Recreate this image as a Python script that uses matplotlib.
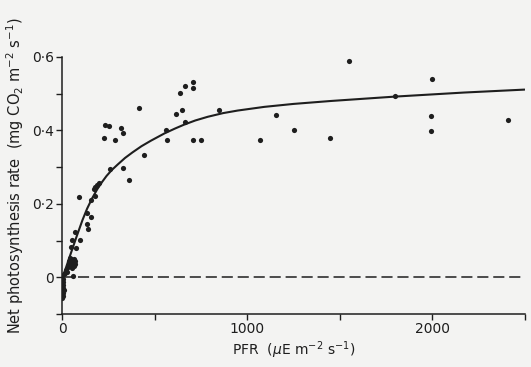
import matplotlib
matplotlib.use('Agg')
import matplotlib.pyplot as plt

# scatter readings: PFR (uE m-2 s-1) and net photosynthesis (mg CO2 m-2 s-1)
pfr = [708, 662, 709, 637, 413, 648, 616, 850, 233, 254, 319, 327, 664, 559,
       227, 285, 569, 706, 749, 440, 261, 330, 361, 1158, 1070, 1251, 1549,
       1998, 1801, 1992, 1993, 2409, 1447,
       93, 200, 190, 180, 172, 178, 156, 134, 157, 133, 139, 94, 72, 55, 50, 77,
       30, 35, 40, 45, 50, 55, 60, 65, 70, 42, 52, 62, 38, 48, 68,
       25, 10, 61, 5, 3, 7, 5, 8, 4, 6, 2, 15, 20]
rate = [0.533, 0.522, 0.516, 0.503, 0.461, 0.456, 0.444, 0.455, 0.415, 0.412,
        0.406, 0.394, 0.422, 0.402, 0.379, 0.374, 0.374, 0.373, 0.373, 0.332,
        0.296, 0.298, 0.266, 0.441, 0.374, 0.400, 0.589, 0.539, 0.493, 0.438,
        0.399, 0.429, 0.378,
        0.220, 0.258, 0.252, 0.246, 0.240, 0.222, 0.211, 0.174, 0.164, 0.145,
        0.132, 0.103, 0.124, 0.101, 0.083, 0.081,
        0.028, 0.035, 0.030, 0.042, 0.036, 0.048, 0.040, 0.050, 0.045, 0.052,
        0.026, 0.032, 0.045, 0.050, 0.036,
        0.015, 0.008, 0.003, -0.005, -0.012, -0.020, -0.028, -0.035, -0.042,
        -0.050, -0.057, 0.012, 0.020]

# fitted response curve
curve_x = [0, 7, 42, 76, 110, 135, 163, 190, 215, 240, 268, 300, 340, 380,
           429, 480, 554, 610, 661, 720, 787, 870, 949, 1093, 1250, 1452,
           1801, 2173, 2500]
curve_y = [-0.005, 0.006, 0.058, 0.108, 0.156, 0.187, 0.216, 0.240, 0.259,
           0.276, 0.292, 0.307, 0.325, 0.340, 0.357, 0.372, 0.392, 0.405,
           0.416, 0.427, 0.437, 0.447, 0.454, 0.464, 0.472, 0.480, 0.492,
           0.503, 0.511]

x_ticks = [0, 500, 1000, 1500, 2000, 2500]
x_labels = ['0', '', '1000', '', '2000', '']
y_ticks = [-0.1, 0, 0.1, 0.2, 0.3, 0.4, 0.5, 0.6]
y_labels = ['', '0', '', '0·2', '', '0·4', '', '0·6']

ink = '#1e1e1e'
plt.rcParams['lines.scale_dashes'] = False

fig = plt.figure(figsize=(5.31, 3.67), dpi=100, facecolor='#f3f3f2')
ax = fig.add_axes([0.117, 0.144, 0.871, 0.701])
ax.set_facecolor('#f3f3f2')

ax.plot([0, 2500], [0, 0], color=ink, lw=1.1, dashes=(8, 3.5))
ax.plot(curve_x, curve_y, color=ink, lw=1.5, solid_capstyle='round',
        solid_joinstyle='round')
ax.scatter(pfr, rate, s=14, color=ink, zorder=3, linewidths=0)

ax.set_xlim(0, 2500)
ax.set_ylim(-0.1, 0.6)
ax.set_xticks(x_ticks)
ax.set_xticklabels(x_labels)
ax.set_yticks(y_ticks)
ax.set_yticklabels(y_labels)
ax.tick_params(direction='out', length=4, width=1, colors=ink, labelsize=10, pad=2)

for side in ['top', 'right']:
    ax.spines[side].set_visible(False)
for side in ['left', 'bottom']:
    ax.spines[side].set_linewidth(1.1)
    ax.spines[side].set_color(ink)

ax.set_xlabel('PFR  ($\\mu$E m$^{-2}$ s$^{-1}$)', fontsize=10, color=ink, labelpad=2)
ax.set_ylabel('Net photosynthesis rate  (mg CO$_2$ m$^{-2}$ s$^{-1}$)', fontsize=10.5, color=ink)
ax.yaxis.set_label_coords(-0.078, 0.54)

fig.savefig('out.png', dpi=100, facecolor=fig.get_facecolor())
